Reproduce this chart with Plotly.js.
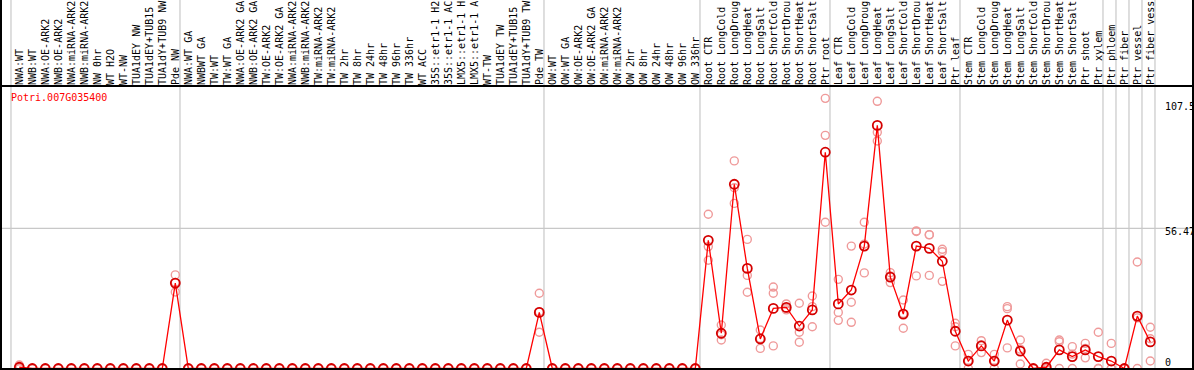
<!DOCTYPE html>
<html>
<head>
<meta charset="utf-8">
<script src="https://cdn.plot.ly/plotly-3.0.1.min.js"></script>
<style>html,body{margin:0;padding:0;background:#fff;}#chart{width:1194px;height:370px;}</style>
</head>
<body>
<div id="chart"></div>
<script>
// ---- data ----
const geneName = "Potri.007G035400";
const groupSizes = [13, 28, 12, 10, 10, 11, 1, 1, 1, 1];
const sampleLabels = [
  "NWA:WT","NWB:WT","NWA:OE-ARK2","NWB:OE-ARK2","NWA:miRNA-ARK2","NWB:miRNA-ARK2","NW 0hr","WT H2O","WT-NW","TUA1dEY NW","TUA1dEY+TUB15","TUA1dY+TUB9 NW","Pde NW",
  "NWA:WT GA","NWBWT GA","TW:WT","TW:WT GA","NWA:OE-ARK2 GA","NWB:OE-ARK2 GA","TW:OE-ARK2","TW:OE-ARK2 GA","NWA:miRNA-ARK2","NWB:miRNA-ARK2","TW:miRNA-ARK2","TW:miRNA-ARK2","TW 2hr","TW 8hr","TW 24hr","TW 48hr","TW 96hr","TW 336hr","WT ACC","35S::etr1-1 H2","35S::etr1-1 AC","LMX5::etr1-1 H","LMX5::etr1-1 A","WT-TW","TUA1dEY TW","TUA1dEY+TUB15","TUA1dY+TUB9 TW","Pde TW",
  "OW:WT","OW:WT GA","OW:OE-ARK2","OW:OE-ARK2 GA","OW:miRNA-ARK2","OW:miRNA-ARK2","OW 2hr","OW 8hr","OW 24hr","OW 48hr","OW 96hr","OW 336hr",
  "Root CTR","Root LongCold","Root LongDroug","Root LongHeat","Root LongSalt","Root ShortCold","Root ShortDrou","Root ShortHeat","Root ShortSalt","Ptr root",
  "Leaf CTR","Leaf LongCold","Leaf LongDroug","Leaf LongHeat","Leaf LongSalt","Leaf ShortCold","Leaf ShortDrou","Leaf ShortHeat","Leaf ShortSalt","Ptr leaf",
  "Stem CTR","Stem LongCold","Stem LongDroug","Stem LongHeat","Stem LongSalt","Stem ShortCold","Stem ShortDrou","Stem ShortHeat","Stem ShortSalt","Ptr shoot","Ptr xylem",
  "Ptr phloem","Ptr fiber","Ptr vessel","Ptr fiber vess"
];
const meanValues = [
  0.5,0,0,0,0,0,0,0,0,0,0,0,34.4,
  0,0,0,0,0,0,0,0,0,0,0,0,0,0,0,0,0,0,0,0,0,0,0,0,0,0,0,22.6,
  0,0,0,0,0,0,0,0,0,0,0,0,
  51.6,14.2,74.2,40.3,11.9,24.2,24.6,17.1,23.6,87.1,
  26.0,31.6,49.3,97.9,36.8,21.9,49.3,48.4,43.2,15.0,
  3.0,9.1,3.0,19.5,7.0,0,0.5,7.5,4.8,7.5,4.8,
  3.0,0,21.1,10.7
];
const rep1 = [
  1.4,0,0,0,0,0,0,0,0,0,0,0,37.7,
  0,0,0,0,0,0,0,0,0,0,0,0,0,0,0,0,0,0,0,0,0,0,0,0,0,0,0,30.3,
  0,0,0,0,0,0,0,0,0,0,0,0,
  62.1,17.5,83.6,52.0,15.5,32.8,26.0,26.3,29.2,108.8,
  35.9,49.3,58.9,107.6,38.6,27.6,55.4,53.8,48.0,18.2,
  5.7,11.2,5.7,24.9,11.5,0,2.1,11.5,8.8,10.1,14.6,
  10.1,0,42.9,16.6
];
const rep2 = [
  0,0,0,0,0,0,0,0,0,0,0,0,30.8,
  0,0,0,0,0,0,0,0,0,0,0,0,0,0,0,0,0,0,0,0,0,0,0,0,0,0,0,14.6,
  0,0,0,0,0,0,0,0,0,0,0,0,
  43.6,11.5,72.8,37.5,8.1,30.3,23.6,14.6,24.9,93.9,
  22.6,26.7,50.1,95.1,34.6,22.2,55.2,53.9,47.0,16.8,
  3.2,9.6,3.2,24.1,7.8,0,0,10.8,5.8,8.1,0,
  0,0,20.4,12.0
];
const rep3 = [
  0,0,0,0,0,0,0,0,0,0,0,0,34.7,
  0,0,0,0,0,0,0,0,0,0,0,0,0,0,0,0,0,0,0,0,0,0,0,0,0,0,0,22.9,
  0,0,0,0,0,0,0,0,0,0,0,0,
  49.1,13.6,66.5,30.7,12.1,9.1,24.2,10.6,16.8,58.9,
  19.4,18.6,38.5,91.6,37.3,16.2,37.3,37.5,35.1,9.1,
  0.1,6.4,0.1,8.3,1.8,0,0,0,0,4.3,0,
  0,0,0,3.0
];
const yTickValues = [107.5, 56.47, 0];
const yTickText = ["107.5", "56.47", "0"];

// ---- layout helpers ----
const W = 1194, H = 370;
const mL = 1, mR = 1, mT = 86, mB = 1;
const xIdx = sampleLabels.map((_, i) => i);
const xRange = [-1.408, 90.285];
const yRange = [-0.2, 113.77];
const plotH = H - mT - mB;
const xPaper = v => (v - xRange[0]) / (xRange[1] - xRange[0]);
const pxToPaperY = py => (H - mB - py) / plotH;
const pxToPaperX = px => (px - mL) / (W - mL - mR);
const MONO = "DejaVu Sans Mono, monospace";

const repX = [].concat(xIdx, xIdx, xIdx);
const repY = [].concat(rep1, rep2, rep3);

const traces = [
  {
    x: repX, y: repY, type: "scatter", mode: "markers",
    marker: {symbol: "circle-open", size: 8, color: "#ef9a9a", line: {width: 1.4, color: "#ef9a9a"}},
    hoverinfo: "skip", cliponaxis: true
  },
  {
    x: xIdx, y: meanValues, type: "scatter", mode: "lines+markers",
    line: {color: "#ff0000", width: 1.3},
    marker: {symbol: "circle-open", size: 9, color: "#d40000", line: {width: 1.8, color: "#d40000"}},
    cliponaxis: true
  }
];

const shapes = [];
// vertical group separators
let start = 0;
const sepPositions = [];
groupSizes.forEach(n => { sepPositions.push(start - 0.64); start += n; });
sepPositions.push(start - 0.64);
sepPositions.forEach(s => {
  shapes.push({type: "line", xref: "paper", yref: "paper", x0: xPaper(s), x1: xPaper(s),
    y0: 0, y1: pxToPaperY(0), line: {color: "#c8c8c8", width: 1.2}, layer: "below"});
});
// horizontal grid at middle tick
shapes.push({type: "line", xref: "paper", yref: "y", x0: 0, x1: 1, y0: yTickValues[1], y1: yTickValues[1],
  line: {color: "#c8c8c8", width: 1.2}, layer: "below"});
// frame
shapes.push({type: "line", xref: "paper", yref: "paper", x0: pxToPaperX(1), x1: pxToPaperX(1), y0: pxToPaperY(370), y1: pxToPaperY(0), line: {color: "#000", width: 2}});
shapes.push({type: "line", xref: "paper", yref: "paper", x0: pxToPaperX(1193), x1: pxToPaperX(1193), y0: pxToPaperY(370), y1: pxToPaperY(0), line: {color: "#000", width: 2}});
shapes.push({type: "line", xref: "paper", yref: "paper", x0: 0, x1: 1, y0: 1, y1: 1, line: {color: "#000", width: 2}});
shapes.push({type: "line", xref: "paper", yref: "paper", x0: 0, x1: 1, y0: 0, y1: 0, line: {color: "#000", width: 2}});

const yShifts = [-5.4, -3.7, 6.5];
const annotations = yTickValues.map((v, k) => ({
  xref: "paper", yref: "y", x: pxToPaperX(1163), y: v, text: yTickText[k],
  showarrow: false, xanchor: "left", yanchor: "middle", yshift: yShifts[k],
  font: {family: MONO, size: 10, color: "#000"}
}));
annotations.push({
  xref: "paper", yref: "paper", x: pxToPaperX(9), y: pxToPaperY(97), text: geneName,
  showarrow: false, xanchor: "left", yanchor: "middle",
  font: {family: MONO, size: 10, color: "#ff0000"}
});

const layout = {
  width: W, height: H,
  margin: {l: mL, r: mR, t: mT, b: mB, pad: 0},
  paper_bgcolor: "#fff", plot_bgcolor: "#fff",
  showlegend: false,
  xaxis: {
    side: "top", range: xRange, tickmode: "array", tickvals: xIdx, ticktext: sampleLabels,
    tickangle: -90, ticks: "", showgrid: false, zeroline: false, showline: false,
    tickfont: {family: MONO, size: 10, color: "#000"}, automargin: false
  },
  yaxis: {
    range: yRange, showticklabels: false, ticks: "", showgrid: false, zeroline: false, showline: false,
    automargin: false
  },
  shapes: shapes,
  annotations: annotations
};

Plotly.newPlot("chart", traces, layout, {displayModeBar: false, staticPlot: true});
</script>
</body>
</html>
